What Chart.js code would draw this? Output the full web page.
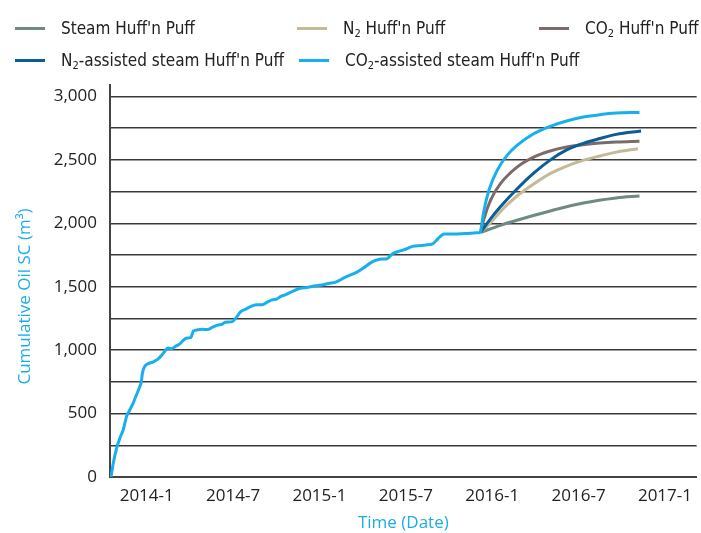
<!DOCTYPE html>
<html>
<head>
<meta charset="utf-8">
<script src="https://cdn.jsdelivr.net/npm/chart.js@4/dist/chart.umd.min.js"></script>
<style>
  html,body{margin:0;padding:0;background:#fff;}
  #wrap{position:relative;width:701px;height:533px;}
  #legend{position:absolute;left:0;top:0;width:701px;height:80px;font-family:"Liberation Sans Narrow","DejaVu Sans Condensed",sans-serif;font-size:17px;color:#222;}
  .item{position:absolute;height:24px;line-height:24px;white-space:nowrap;}
  .swatch{position:absolute;left:0;top:11px;width:30px;height:3px;}
  .txt{position:absolute;left:46px;top:0;}
  sub{font-size:11px;vertical-align:-3px;line-height:0;}
</style>
</head>
<body>
<div id="wrap">
  <canvas id="c" width="701" height="533"></canvas>
  <div id="legend"></div>
</div>
<script>
// ---- data (x = months since 2014-1) ----
const X_TICKS = [0, 6, 12, 18, 24, 30, 36];
const X_TICK_LABELS = ['2014-1', '2014-7', '2015-1', '2015-7', '2016-1', '2016-7', '2017-1'];
const Y_TICKS = [0, 250, 500, 750, 1000, 1250, 1500, 1750, 2000, 2250, 2500, 2750, 3000];

const HIST_MONTHS = [-2.48, -2.32, -2.09, -1.86, -1.63, -1.40, -1.17, -0.94, -0.71, -0.48, -0.37, -0.30, -0.14, 0.09, 0.43, 0.78, 1.01, 1.24, 1.47, 1.70, 2.05, 2.28, 2.50, 2.74, 3.08, 3.24, 3.54, 3.88, 4.23, 4.57, 4.92, 5.26, 5.45, 5.95, 6.19, 6.53, 6.88, 7.33, 7.68, 8.02, 8.37, 8.71, 9.06, 9.29, 9.63, 10.09, 10.67, 11.12, 11.47, 12.16, 12.62, 13.08, 13.77, 14.57, 15.03, 15.50, 15.84, 16.30, 16.64, 17.10, 17.68, 18.02, 18.48, 19.06, 19.40, 19.86, 20.21, 20.67, 21.36, 22.28, 23.19];
const HIST_OIL = [0, 110, 228, 307, 372, 477, 530, 582, 648, 713, 753, 818, 871, 893, 906, 929, 955, 989, 1016, 1010, 1034, 1047, 1073, 1094, 1102, 1152, 1160, 1165, 1162, 1181, 1197, 1205, 1220, 1225, 1252, 1304, 1323, 1349, 1357, 1357, 1378, 1396, 1404, 1422, 1436, 1462, 1488, 1494, 1502, 1513, 1526, 1534, 1574, 1613, 1645, 1684, 1705, 1718, 1718, 1762, 1784, 1797, 1818, 1824, 1829, 1837, 1876, 1915, 1915, 1920, 1928];

const STEAM_MONTHS = [23.19, 24.57, 25.72, 28.02, 30.32, 32.62, 34.23];
const STEAM_OIL = [1928, 1984, 2024, 2097, 2160, 2200, 2215];

const N2_MONTHS = [23.19, 23.88, 24.81, 25.72, 26.88, 28.02, 29.17, 30.32, 31.47, 32.62, 34.12];
const N2_OIL = [1928, 2005, 2120, 2215, 2310, 2391, 2451, 2496, 2530, 2561, 2587];

const CO2_MONTHS = [23.19, 23.43, 23.88, 24.57, 25.72, 26.88, 28.02, 29.17, 30.32, 31.47, 32.62, 34.23];
const CO2_OIL = [1928, 2037, 2181, 2312, 2443, 2522, 2570, 2601, 2619, 2632, 2640, 2646];

const N2S_MONTHS = [23.19, 23.88, 24.57, 25.72, 26.88, 28.02, 29.17, 30.32, 31.47, 32.62, 34.34];
const N2S_OIL = [1928, 2035, 2130, 2270, 2395, 2498, 2578, 2630, 2668, 2701, 2727];

const CO2S_MONTHS = [23.19, 23.43, 23.77, 24.34, 25.03, 25.72, 26.88, 28.02, 29.17, 30.32, 31.47, 32.62, 34.23];
const CO2S_OIL = [1928, 2102, 2260, 2417, 2535, 2614, 2706, 2764, 2806, 2837, 2856, 2869, 2874];

const SERIES_NAMES = ["Steam Huff'n Puff", "N2 Huff'n Puff", "CO2 Huff'n Puff", "N2-assisted steam Huff'n Puff", "CO2-assisted steam Huff'n Puff"];
const SERIES_COLORS = ['#6f8985', '#c3bb98', '#7c6b69', '#0b5d97', '#17b0ec'];

// ---- build ----
const pts = (xs, ys) => xs.map((x, i) => ({x, y: ys[i]}));
const seriesData = [
  pts(STEAM_MONTHS, STEAM_OIL),
  pts(N2_MONTHS, N2_OIL),
  pts(CO2_MONTHS, CO2_OIL),
  pts(N2S_MONTHS, N2S_OIL),
  pts(CO2S_MONTHS, CO2S_OIL)
];

const datasets = [{
  label: 'History',
  data: pts(HIST_MONTHS, HIST_OIL),
  borderColor: SERIES_COLORS[4],
  borderWidth: 3,
  pointRadius: 0,
  cubicInterpolationMode: 'monotone',
  order: 0
}];
SERIES_NAMES.forEach((name, i) => {
  datasets.push({
    label: name,
    data: seriesData[i],
    borderColor: SERIES_COLORS[i],
    borderWidth: 3,
    pointRadius: 0,
    cubicInterpolationMode: 'monotone',
    order: 5 - i
  });
});

// HTML legend
const legendPos = [[15, 16], [297, 16], [539, 16], [15, 48], [299, 48]];
const lg = document.getElementById('legend');
SERIES_NAMES.forEach((name, i) => {
  const d = document.createElement('div');
  d.className = 'item';
  d.style.left = legendPos[i][0] + 'px';
  d.style.top = legendPos[i][1] + 'px';
  const html = name.replace(/(N|O)2/g, '$1<sub>2</sub>');
  d.innerHTML = '<span class="swatch" style="background:' + SERIES_COLORS[i] + '"></span><span class="txt">' + html + '</span>';
  lg.appendChild(d);
});

const TICK_FONT = {family: "'Open Sans', 'Noto Sans', sans-serif", size: 17};
const TITLE_COLOR = '#1aaee9';

new Chart(document.getElementById('c'), {
  type: 'line',
  data: {datasets},
  options: {
    responsive: false,
    animation: false,
    devicePixelRatio: 1,
    layout: {padding: {top: 85, left: 11, right: 0, bottom: 0}},
    plugins: {legend: {display: false}, tooltip: {enabled: false}},
    scales: {
      x: {
        type: 'linear',
        min: -2.55,
        max: 38.2,
        afterBuildTicks: s => { s.ticks = X_TICKS.map(v => ({value: v})); },
        afterFit: s => { s.height = 56; },
        ticks: {
          autoSkip: false,
          maxRotation: 0,
          padding: 9,
          color: '#222',
          font: TICK_FONT,
          callback: (v) => X_TICK_LABELS[X_TICKS.indexOf(v)]
        },
        grid: {display: false, drawTicks: false},
        border: {display: true, color: '#444', width: 2},
        title: {
          display: true,
          text: 'Time (Date)',
          color: TITLE_COLOR,
          font: {family: "'Open Sans', 'Noto Sans', sans-serif", size: 17},
          padding: {top: 0, bottom: 0}
        }
      },
      y: {
        type: 'linear',
        min: 0,
        max: 3090,
        afterBuildTicks: s => { s.ticks = Y_TICKS.map(v => ({value: v})); },
        afterFit: s => { s.width = 99; },
        ticks: {
          autoSkip: false,
          padding: 13,
          color: '#222',
          font: TICK_FONT,
          callback: (v) => (v % 500 === 0 ? v.toLocaleString('en-US') : '')
        },
        grid: {color: '#3a3a3a', lineWidth: 1.5, drawTicks: false},
        border: {display: true, color: '#444', width: 2},
        title: {
          display: true,
          text: 'Cumulative Oil SC (m³)\u00a0\u00a0\u00a0\u00a0\u00a0\u00a0\u00a0',
          color: TITLE_COLOR,
          font: {family: "'Open Sans', 'Noto Sans', sans-serif", size: 17},
          padding: {top: 4, bottom: 4}
        }
      }
    }
  }
});
</script>
</body>
</html>
